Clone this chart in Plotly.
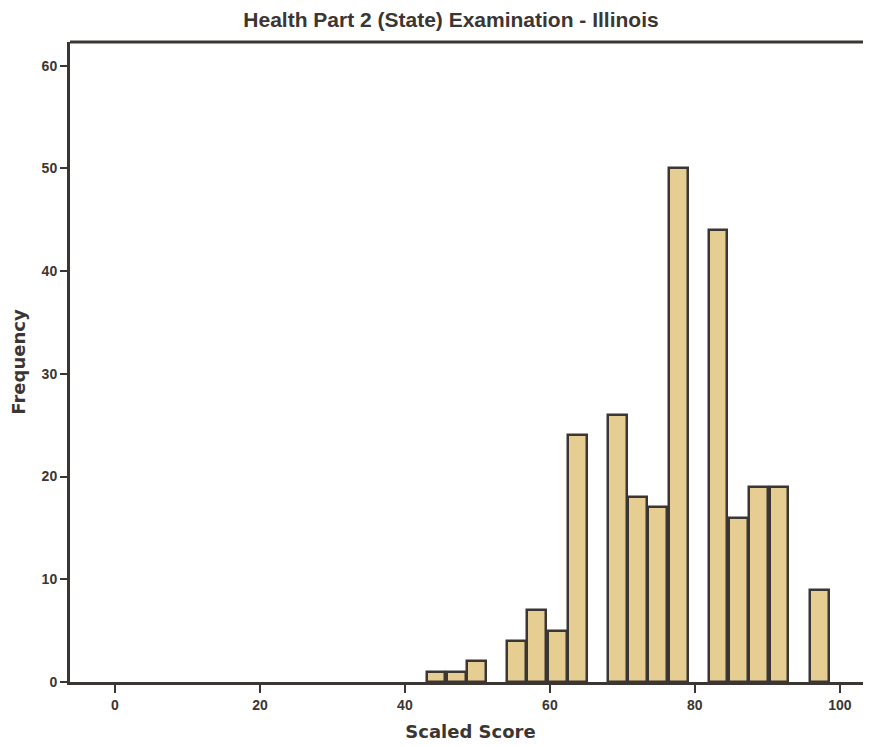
import plotly.graph_objects as go

# Histogram bins (centre of each bar) and counts
bin_centers = [44.3, 47.1, 49.9, 55.4, 58.2, 61.0, 63.8, 69.3, 72.1, 74.9, 77.7,
               83.2, 86.0, 88.8, 91.6, 97.2]
frequency = [1, 1, 2, 4, 7, 5, 24, 26, 18, 17, 50, 44, 16, 19, 19, 9]

x_ticks = [0, 20, 40, 60, 80, 100]
y_ticks = [0, 10, 20, 30, 40, 50, 60]

ink = '#3b3633'
fill = '#E6CE93'
font = 'Liberation Sans, Arial, sans-serif'
wide_font = 'DejaVu Sans, Verdana, sans-serif'

# the page body adds an 8px margin, so the figure is 8px smaller than the window
W, H = 863, 739

fig = go.Figure()

fig.add_trace(go.Bar(
    x=bin_centers,
    y=frequency,
    width=2.6,
    marker=dict(color=fill, line=dict(color=ink, width=2.5)),
    showlegend=False,
))

fig.update_layout(
    width=W,
    height=H,
    margin=dict(l=62, r=0, t=34, b=65),
    plot_bgcolor='white',
    paper_bgcolor='white',
    bargap=0,
    font=dict(family=font, color=ink),
    title=dict(
        text='Health Part 2 (State) Examination - Illinois',
        x=443 / W, xanchor='center', xref='container',
        y=1 - 12 / H, yanchor='middle', yref='container',
        font=dict(size=21, weight='bold', color=ink),
    ),
    xaxis=dict(
        range=[-6.2, 104.3],
        tickvals=x_ticks,
        ticks='outside', ticklen=8, tickwidth=2, tickcolor=ink,
        tickfont=dict(size=14, weight='bold', color=ink),
        showline=True, linecolor=ink, linewidth=3,
        showgrid=False, zeroline=False,
        title=dict(text='Scaled Score', standoff=14,
                   font=dict(family=wide_font, size=18, weight='bold', color=ink)),
        automargin=False,
    ),
    yaxis=dict(
        range=[0, 62.3],
        tickvals=y_ticks,
        ticks='outside', ticklen=7, tickwidth=2, tickcolor=ink,
        tickfont=dict(size=14, weight='bold', color=ink),
        showline=True, linecolor=ink, linewidth=3,
        showgrid=False, zeroline=False,
        title=dict(text='Frequency', standoff=12,
                   font=dict(family=wide_font, size=18, weight='bold', color=ink)),
        automargin=False,
    ),
    # top border of the frame (no right border in the original)
    shapes=[dict(type='line', xref='paper', yref='paper', x0=0, x1=1, y0=1, y1=1,
                 line=dict(color=ink, width=3))],
)

fig.write_html("out.html")
